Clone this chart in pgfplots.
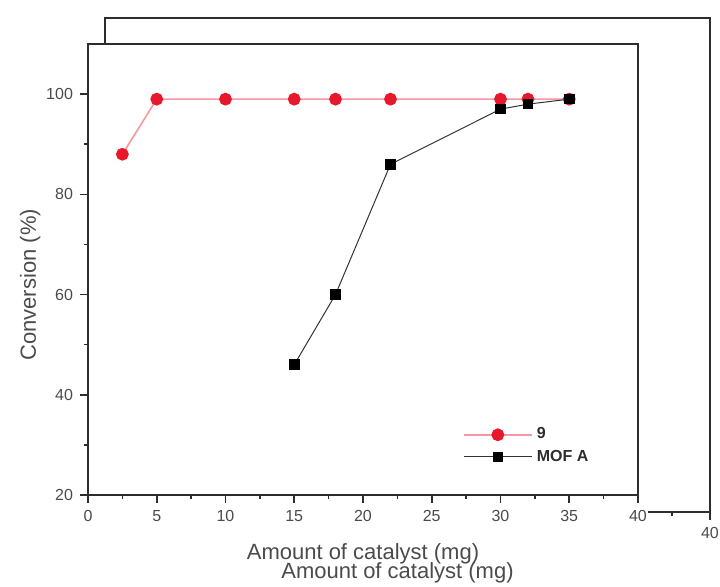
\documentclass[border=0pt]{standalone}
\usepackage{pgfplots}
\pgfplotsset{compat=1.18}
\usepackage{fontspec}
\setmainfont{Liberation Sans}
\definecolor{redmark}{RGB}{232,24,44}
\definecolor{pinkline}{RGB}{250,150,160}
\definecolor{framegray}{RGB}{45,45,45}
\definecolor{labgray}{RGB}{75,75,75}

\pgfplotsset{
  frame/.style={
    scale only axis,
    xmin=0, xmax=40, ymin=20, ymax=110,
    axis line style={framegray, line width=1pt},
    tick style={framegray, line width=0.8pt},
    tick align=outside,
    major tick length=4pt, minor tick length=2pt,
    xtick pos=bottom, ytick pos=left,
    ticklabel style={font=\fontsize{8}{9}\selectfont, text=labgray},
    /pgf/number format/assume math mode=true,
    label style={font=\fontsize{11}{13}\selectfont, text=labgray},
  }
}

\begin{document}
\begin{tikzpicture}
% page = 720 x 586 px at 0.5pt per px
\path[use as bounding box] (0pt,0pt) rectangle (360pt,293pt);

% frame of the figure behind
\begin{axis}[frame,
  at={(52.5pt,37pt)}, anchor=south west,
  width=302.5pt, height=247pt,
  xtick={0,5,...,40}, xticklabels={,,,,,,,,40},
  minor x tick num=1,
  ytick=\empty,
  xlabel={Amount of catalyst (mg)},
  xlabel style={yshift=-5pt, xshift=-5pt},
]
\addplot[draw=none] coordinates {(0,20) (40,110)};
\end{axis}

\fill[white] (40pt,20.5pt) rectangle (324pt,271pt);

% main chart
\begin{axis}[frame,
  at={(44pt,45.5pt)}, anchor=south west,
  width=275pt, height=225.5pt,
  xtick={0,5,...,40}, minor x tick num=1,
  ytick={20,40,...,100}, minor y tick num=1,
  xlabel={Amount of catalyst (mg)},
  xlabel style={yshift=-4pt},
  ylabel={Conversion (\%)},
  ylabel style={at={(axis description cs:-0.105,0.466)}, anchor=center},
  legend style={draw=none, fill=none, at={(0.67,0.05)}, anchor=south west,
    font=\bfseries\fontsize{8}{11}\selectfont, text=framegray},
  legend cell align=left,
  legend image code/.code={\draw[mark repeat=2,mark phase=2]
    plot coordinates {(0cm,0cm) (0.6cm,0cm) (1.2cm,0cm)};},
]
\addplot[pinkline, line width=0.8pt, mark=*, mark size=2.8pt,
  mark options={fill=redmark, draw=redmark}]
  coordinates {(2.5,88) (5,99) (10,99) (15,99) (18,99) (22,99) (30,99) (32,99) (35,99)};
\addlegendentry{9}
\addplot[black!80, line width=0.5pt, mark=square*, mark size=2.4pt,
  mark options={fill=black, draw=black}]
  coordinates {(15,46) (18,60) (22,86) (30,97) (32,98) (35,99)};
\addlegendentry{MOF A}
\end{axis}
\end{tikzpicture}
\end{document}
